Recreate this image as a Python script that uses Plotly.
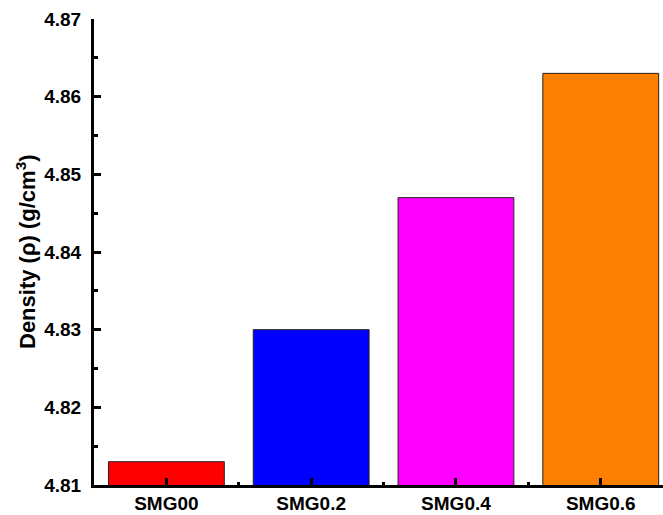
import plotly.graph_objects as go

categories = ["SMG00", "SMG0.2", "SMG0.4", "SMG0.6"]
density = [4.813, 4.830, 4.847, 4.863]
colors = ["#FF0000", "#0000FF", "#FF00FF", "#FF8000"]
y_ticks = [4.81, 4.82, 4.83, 4.84, 4.85, 4.86, 4.87]

xpos = list(range(len(categories)))

fig = go.Figure()
fig.add_trace(go.Bar(
    x=xpos, y=density,
    marker=dict(color=colors, line=dict(color="#222222", width=1)),
    width=0.8,
))

font_tick = dict(family="Arial, Liberation Sans, sans-serif", size=19, color="black", weight="bold")

fig.update_layout(
    width=663, height=515,
    margin=dict(l=94, r=0, t=19, b=30),
    plot_bgcolor="white", paper_bgcolor="white",
    showlegend=False,
    xaxis=dict(
        range=[-0.5, 3.43],
        tickmode="array", tickvals=xpos, ticktext=categories,
        ticks="inside", ticklen=7, tickwidth=3, tickcolor="black",
        showline=True, linewidth=3, linecolor="black",
        showgrid=False, zeroline=False,
        tickfont=font_tick, ticklabelstandoff=-1,
        minor=dict(tickmode="linear", tick0=0.5, dtick=1, ticks="inside",
                   ticklen=3, tickwidth=3, tickcolor="black", showgrid=False),
        automargin=False,
    ),
    yaxis=dict(
        range=[4.81, 4.87],
        tickmode="array", tickvals=y_ticks, ticktext=[f"{v:.2f}" for v in y_ticks],
        ticks="inside", ticklen=7, tickwidth=3, tickcolor="black",
        showline=True, linewidth=3, linecolor="black",
        showgrid=False, zeroline=False,
        tickfont=font_tick, ticklabelstandoff=6,
        minor=dict(tickmode="linear", tick0=4.805, dtick=0.01, ticks="inside",
                   ticklen=4, tickwidth=3, tickcolor="black", showgrid=False),
        automargin=False,
    ),
    annotations=[dict(
        text="Density (ρ) (g/cm<sup>3</sup>)",
        xref="paper", yref="paper",
        x=(26 - 94) / 569.0, y=(485 - 252) / 466.0,
        xanchor="center", yanchor="middle",
        textangle=-90, showarrow=False,
        font=dict(family="Arial, Liberation Sans, sans-serif", size=22, color="black", weight="bold"),
    )],
)

fig.write_html("out.html")
